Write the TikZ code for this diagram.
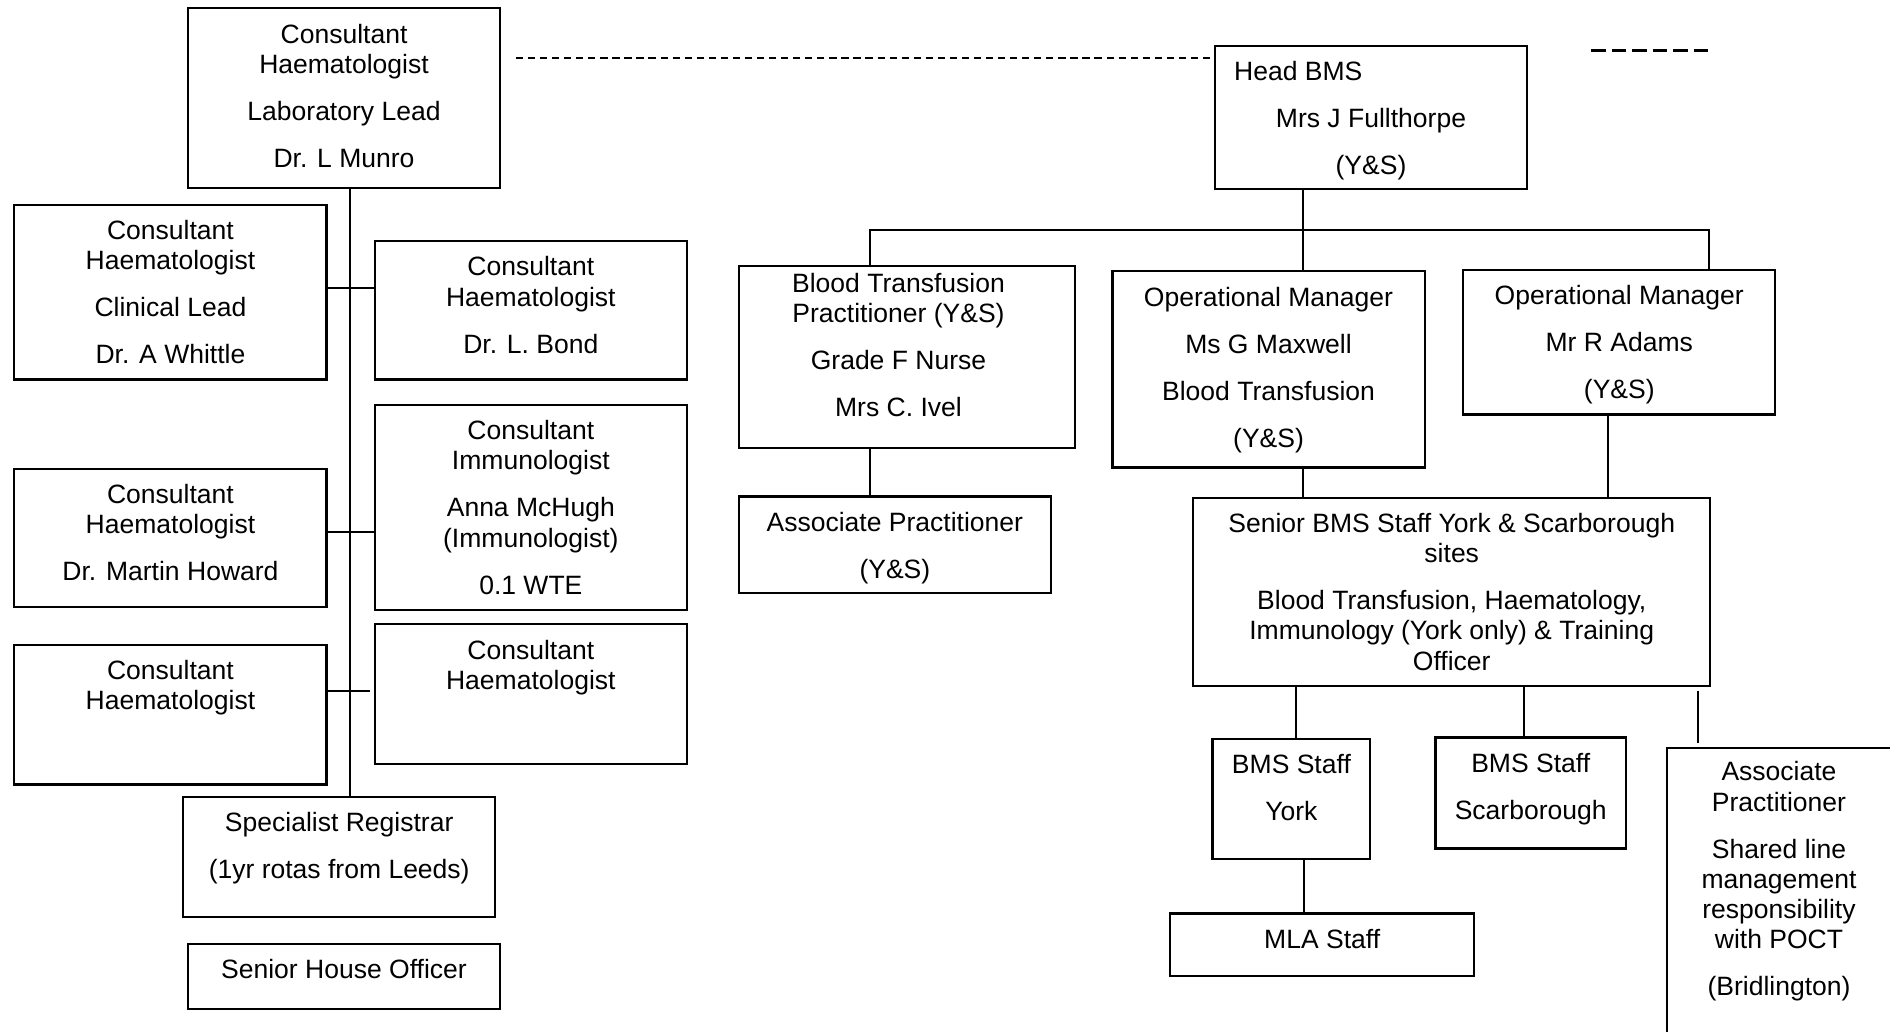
\documentclass[tikz,border=0pt]{standalone}
\usepackage{fontspec}
\setmainfont{Liberation Sans}

% text block of a post: width, height, first baseline
\newcommand{\orgtext}[4][14.5pt]{\parbox[t][#3][t]{#2}{\centering\rule{0pt}{#1}#4}}
\newcommand{\gap}{\\[7pt]}

\tikzset{
  post/.style={draw, line width=0.9pt, inner sep=0pt, anchor=north west,
    font=\fontsize{11}{12.5}\selectfont},
  link/.style={line width=0.8pt},
  dashlink/.style={line width=0.7pt, dash pattern=on 3pt off 2pt},
  keyline/.style={line width=1pt, dash pattern=on 6pt off 2.5pt},
}

\begin{document}
\begin{tikzpicture}[x=0.5pt,y=-0.5pt]
  \clip (0,0) rectangle (1568,856);

  % medical staff
  \node[post] (lab) at (155,6) {\orgtext{129.5pt}{74.5pt}{Consultant\\Haematologist\gap Laboratory Lead\gap Dr. L Munro}};
  \node[post] (whittle) at (11,169) {\orgtext{129.5pt}{72.5pt}{Consultant\\Haematologist\gap Clinical Lead\gap Dr. A Whittle}};
  \node[post] (bond) at (310,199) {\orgtext{129.5pt}{57.5pt}{Consultant\\Haematologist\gap Dr. L. Bond}};
  \node[post] (immuno) at (310,335) {\orgtext{129.5pt}{85pt}{Consultant\\Immunologist\gap Anna McHugh\\(Immunologist)\gap 0.1 WTE}};
  \node[post] (howard) at (11,388) {\orgtext{129.5pt}{57.5pt}{Consultant\\Haematologist\gap Dr. Martin Howard}};
  \node[post] (haemL) at (11,534) {\orgtext{129.5pt}{58pt}{Consultant\\Haematologist}};
  \node[post] (haemR) at (310,517) {\orgtext{129.5pt}{58pt}{Consultant\\Haematologist}};
  \node[post] (reg) at (151,660) {\orgtext{129.5pt}{50pt}{Specialist Registrar\gap (1yr rotas from Leeds)}};
  \node[post] (sho) at (155,782) {\orgtext{129.5pt}{27pt}{Senior House Officer}};

  \coordinate (spine) at (290,0);
  \draw[link] (lab.south -| spine) -- (reg.north -| spine);
  \draw[link] (whittle.east |- 0,239) -- (bond.west |- 0,239);
  \draw[link] (howard.east |- 0,441) -- (immuno.west |- 0,441);
  \draw[link] (haemL.east |- 0,573) -- (307,573);

  % laboratory staff
  \node[post] (head) at (1007,37) {\orgtext{129.5pt}{59.5pt}{\makebox[\linewidth][l]{\hspace{8pt}Head BMS}\gap Mrs J Fullthorpe\gap (Y\&S)}};
  \node[post] (btp) at (612,220) {\orgtext[11pt]{139.5pt}{75.5pt}{\rightskip=7pt plus 1fil Blood Transfusion\\Practitioner (Y\&S)\gap Grade F Nurse\gap Mrs C. Ivel}};
  \node[post] (maxwell) at (922,224) {\orgtext{129.5pt}{81.5pt}{Operational Manager\gap Ms G Maxwell\gap Blood Transfusion\gap (Y\&S)}};
  \node[post] (adams) at (1213,223) {\orgtext{129.5pt}{60pt}{Operational Manager\gap Mr R Adams\gap (Y\&S)}};
  \node[post] (assoc) at (612,411) {\orgtext{129.5pt}{40pt}{Associate Practitioner\gap (Y\&S)}};
  \node[post] (senior) at (989,412) {\orgtext{214.5pt}{78pt}{Senior BMS Staff York \& Scarborough\\sites\gap Blood Transfusion, Haematology,\\Immunology (York only) \& Training\\Officer}};
  \node[post] (york) at (1005,612) {\orgtext{65.5pt}{50pt}{BMS Staff\gap York}};
  \node[post] (scarb) at (1190,611) {\orgtext{79pt}{46pt}{BMS Staff\gap Scarborough}};
  \node[post] (mla) at (970,757) {\orgtext{126pt}{26pt}{MLA Staff}};
  \node[post] (bridl) at (1382,620) {\orgtext[13.5pt]{93pt}{130pt}{Associate\\Practitioner\gap Shared line\\management\\responsibility\\with POCT\gap (Bridlington)}};

  \coordinate (dashstart) at (428,48);
  \draw[dashlink] (dashstart) -- (dashstart -| head.west);
  \coordinate (keystart) at (1320,42);
  \draw[keyline] (keystart) -- ++(98,0);

  \draw[link] (1081,0 |- head.south) -- (1081,0 |- maxwell.north);
  \draw[link] (722,0 |- btp.north) -- (722,191) -| (1418,0 |- adams.north);
  \draw[link] (722,0 |- btp.south) -- (722,0 |- assoc.north);
  \draw[link] (1081,0 |- maxwell.south) -- (1081,0 |- senior.north);
  \draw[link] (1334,0 |- adams.south) -- (1334,0 |- senior.north);
  \draw[link] (1075,0 |- senior.south) -- (1075,0 |- york.north);
  \draw[link] (1264,0 |- senior.south) -- (1264,0 |- scarb.north);
  \draw[link] (1082,0 |- york.south) -- (1082,0 |- mla.north);
  \coordinate (stub) at (1409,573);
  \draw[link, shorten >=2pt] (stub) -- (stub |- bridl.north);
\end{tikzpicture}
\end{document}
